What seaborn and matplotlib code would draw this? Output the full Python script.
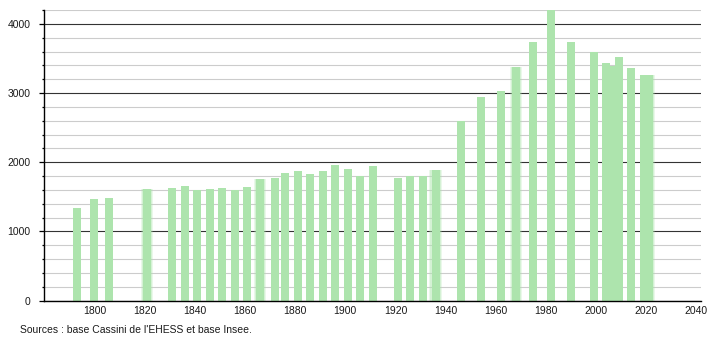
import matplotlib
matplotlib.use("Agg")
import matplotlib.pyplot as plt
import seaborn as sns
import pandas as pd
import numpy as np

years = [1793, 1800, 1806, 1821, 1831, 1836, 1841, 1846, 1851, 1856, 1861, 1866,
         1872, 1876, 1881, 1886, 1891, 1896, 1901, 1906, 1911, 1921, 1926, 1931,
         1936, 1946, 1954, 1962, 1968, 1975, 1982, 1990, 1999, 2004, 2006, 2009,
         2014, 2019, 2021]
population = [1345, 1467, 1486, 1616, 1635, 1650, 1602, 1616, 1635, 1602, 1641, 1761,
              1775, 1852, 1872, 1833, 1872, 1964, 1906, 1804, 1949, 1775, 1804, 1804,
              1891, 2590, 2948, 3034, 3382, 3743, 4200, 3743, 3599, 3440, 3396, 3526,
              3355, 3268, 3254]
soft_years = [1821, 1866, 1936, 1968, 2021]
x_ticks = [1800, 1820, 1840, 1860, 1880, 1900, 1920, 1940, 1960, 1980, 2000, 2020, 2040]
y_ticks = [0, 1000, 2000, 3000, 4000]
source_text = "Sources : base Cassini de l'EHESS et base Insee."

df = pd.DataFrame({"year": years, "population": population})
soft = df[df["year"].isin(soft_years)]

sns.set_style("white")
plt.rcParams["font.family"] = ["Liberation Sans", "DejaVu Sans"]
plt.rcParams["text.color"] = "#1a1a1a"
plt.rcParams["xtick.color"] = "#1a1a1a"
plt.rcParams["ytick.color"] = "#1a1a1a"

fig = plt.figure(figsize=(7.1, 3.4), dpi=100)
ax = fig.add_axes([44 / 710, 1 - 300.7 / 340, (700.7 - 44) / 710, (300.7 - 10) / 340])

bar_color = "#ade4ad"
bar_w = 3.2  # years
min_gap = np.min(np.diff(sorted(years)))
sns.barplot(data=df, x="year", y="population", native_scale=True,
            width=bar_w / min_gap, color=bar_color, saturation=1,
            errorbar=None, linewidth=0, ax=ax, zorder=3)

# soft halo on a few bars (faded edges in the reference)
soft_gap = np.min(np.diff(sorted(soft_years)))
for w, a in [(5.0, 0.25), (4.1, 0.35)]:
    sns.barplot(data=soft, x="year", y="population", native_scale=True,
                width=w / soft_gap, color=bar_color, saturation=1, alpha=a,
                errorbar=None, linewidth=0, ax=ax, zorder=2.9)

ax.set_xlim(1779.9, 2041.7)
ax.set_ylim(0, 4200)
ax.set_xticks(x_ticks)
ax.set_xticklabels([str(t) for t in x_ticks])
ax.set_yticks(y_ticks)
ax.set_yticklabels([str(t) for t in y_ticks])
ax.set_yticks(np.arange(0, 4201, 200), minor=True)
ax.set_xlabel("")
ax.set_ylabel("")

ax.grid(which="major", axis="y", color="#333333", linewidth=0.8, zorder=1)
ax.grid(which="minor", axis="y", color="#cccccc", linewidth=0.8, zorder=1)
ax.grid(axis="x", visible=False)
ax.set_axisbelow(True)

for s in ["top", "right"]:
    ax.spines[s].set_visible(False)
for s in ["left", "bottom"]:
    ax.spines[s].set_color("black")
    ax.spines[s].set_linewidth(1.0)
    ax.spines[s].set_zorder(5)

ax.tick_params(axis="y", which="major", length=3.5, width=0.9, color="black",
               pad=6, labelsize=7.5, left=True)
ax.tick_params(axis="y", which="minor", length=1.8, width=0.9, color="black", left=True)
ax.tick_params(axis="x", which="both", length=0, pad=3.5, labelsize=7.5)

fig.text(20 / 710, 1 - 330 / 340, source_text, fontsize=7.5, ha="left", va="center")

fig.savefig("out.png", dpi=100)
